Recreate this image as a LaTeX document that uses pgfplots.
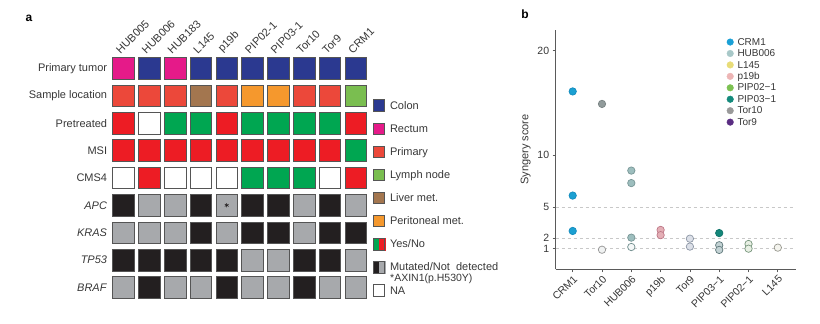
\documentclass[border=0pt]{standalone}
\usepackage{fontspec}
\setmainfont{Liberation Sans}
\usepackage{pgfplots}
\pgfplotsset{compat=1.18}
\definecolor{colonC}{RGB}{43,57,144}
\definecolor{rectumC}{RGB}{229,26,137}
\definecolor{primC}{RGB}{236,72,58}
\definecolor{lymphC}{RGB}{122,190,80}
\definecolor{liverC}{RGB}{163,118,79}
\definecolor{periC}{RGB}{245,152,45}
\definecolor{yesC}{RGB}{0,166,81}
\definecolor{noC}{RGB}{237,28,36}
\definecolor{mutC}{RGB}{35,31,32}
\definecolor{ndC}{RGB}{167,169,172}
\definecolor{sqdraw}{RGB}{85,85,85}
\definecolor{txt}{RGB}{55,55,55}
\definecolor{axC}{RGB}{90,90,90}
\definecolor{gridC}{RGB}{200,200,200}
% panel b legend colours
\definecolor{lCRM}{RGB}{26,160,214}
\definecolor{lHUB}{RGB}{168,200,200}
\definecolor{lL145}{RGB}{232,220,120}
\definecolor{lp19b}{RGB}{237,181,181}
\definecolor{lPIP02}{RGB}{124,193,82}
\definecolor{lPIP03}{RGB}{20,138,124}
\definecolor{lTor10}{RGB}{154,154,154}
\definecolor{lTor9}{RGB}{90,45,130}
% panel b point colours
\definecolor{fCRM}{RGB}{27,160,210}\definecolor{dCRM}{RGB}{20,140,190}
\definecolor{fT10a}{RGB}{145,155,155}\definecolor{dT10a}{RGB}{120,130,130}
\definecolor{fT10b}{RGB}{240,242,242}\definecolor{dT10b}{RGB}{150,150,150}
\definecolor{fHUBa}{RGB}{157,190,190}\definecolor{dHUBa}{RGB}{120,150,150}
\definecolor{fHUBb}{RGB}{245,248,248}\definecolor{dHUBb}{RGB}{110,140,140}
\definecolor{fP19}{RGB}{228,175,182}\definecolor{dP19}{RGB}{190,120,135}
\definecolor{fT9}{RGB}{220,224,232}\definecolor{dT9}{RGB}{140,150,165}
\definecolor{fP3a}{RGB}{20,135,122}\definecolor{dP3a}{RGB}{15,115,105}
\definecolor{fP3b}{RGB}{195,210,212}\definecolor{dP3b}{RGB}{95,120,122}
\definecolor{fP2}{RGB}{232,240,228}\definecolor{dP2}{RGB}{120,150,125}
\definecolor{fL}{RGB}{244,244,238}\definecolor{dL}{RGB}{150,150,140}
\pgfplotsset{
  sqleg/.style={legend image code/.code={\draw[draw=sqdraw, fill=#1, line width=0.6pt] (0pt,-5.75pt) rectangle (11.5pt,5.75pt);}},
  dotleg/.style={legend image code/.code={\draw[only marks, mark=*, mark size=3.3pt, mark options={draw=#1, fill=#1}] plot coordinates {(0pt,0pt)};}},
  sq/.style={only marks, mark=square*, mark size=10.8pt, mark options={draw=sqdraw, fill=#1, line width=0.7pt}, forget plot},
  pt/.style 2 args={only marks, mark=*, mark size=3.7pt, mark options={fill=#1, draw=#2, line width=0.7pt}, forget plot},
}
\begin{document}
\begin{tikzpicture}
% ---------------- panel a ----------------
\begin{axis}[
  at={(110.6pt,269.4pt)}, anchor=north west,
  scale only axis, width=258pt, height=246.6pt,
  xmin=-0.5, xmax=9.5, ymin=-0.5, ymax=8.5,
  axis line style={draw=none}, major tick length=0pt,
  clip=false,
  xtick={0,...,9},
  xticklabels={HUB005,HUB006,HUB183,L145,p19b,PIP02-1,PIP03-1,Tor10,Tor9,CRM1},
  xticklabel pos=upper,
  xticklabel style={rotate=45, anchor=south west, inner sep=1pt, xshift=-3pt, yshift=1pt},
  ytick={0,...,8},
  yticklabels={\textit{BRAF},\textit{TP53},\textit{KRAS},\textit{APC},CMS4,MSI,Pretreated,Sample location,Primary tumor},
  tick label style={font=\fontsize{11}{13}\selectfont, text=txt},
  legend cell align=left,
  legend style={at={(1.016,0.819)}, anchor=north west, draw=none, fill=none, inner sep=0pt,
    row sep=11pt, column sep=0pt, font=\fontsize{11}{13}\selectfont, text=txt,
    nodes={inner ysep=0pt, inner xsep=5pt}},
]
\addplot[sq=rectumC] coordinates {(0,8) (2,8)};
\addplot[sq=colonC] coordinates {(1,8) (3,8) (4,8) (5,8) (6,8) (7,8) (8,8) (9,8)};
\addplot[sq=primC] coordinates {(0,7) (1,7) (2,7) (4,7) (7,7) (8,7)};
\addplot[sq=liverC] coordinates {(3,7)};
\addplot[sq=periC] coordinates {(5,7) (6,7)};
\addplot[sq=lymphC] coordinates {(9,7)};
\addplot[sq=noC] coordinates {(0,6) (4,6) (9,6) (0,5) (1,5) (2,5) (3,5) (4,5) (5,5) (6,5) (7,5) (8,5) (1,4) (9,4)};
\addplot[sq=yesC] coordinates {(2,6) (3,6) (5,6) (6,6) (7,6) (8,6) (9,5) (5,4) (6,4) (7,4)};
\addplot[sq=white] coordinates {(1,6) (0,4) (2,4) (3,4) (4,4) (8,4)};
\addplot[sq=mutC] coordinates {(0,3) (3,3) (5,3) (6,3) (8,3) (3,2) (5,2) (6,2) (8,2) (9,2)
  (0,1) (1,1) (2,1) (3,1) (4,1) (7,1) (8,1) (1,0) (4,0) (7,0)};
\addplot[sq=ndC] coordinates {(1,3) (2,3) (4,3) (7,3) (9,3) (0,2) (1,2) (2,2) (4,2) (7,2)
  (5,1) (6,1) (9,1) (0,0) (2,0) (3,0) (5,0) (6,0) (8,0) (9,0)};
\addplot[only marks, mark=asterisk, mark size=2.2pt, mark options={draw=mutC, line width=0.6pt}, forget plot] coordinates {(4,3)};
\addlegendimage{sqleg=colonC}\addlegendentry{\strut Colon}
\addlegendimage{sqleg=rectumC}\addlegendentry{\strut Rectum}
\addlegendimage{sqleg=primC}\addlegendentry{\strut Primary}
\addlegendimage{sqleg=lymphC}\addlegendentry{\strut Lymph node}
\addlegendimage{sqleg=liverC}\addlegendentry{\strut Liver met.}
\addlegendimage{sqleg=periC}\addlegendentry{\strut Peritoneal met.}
\addlegendimage{legend image code/.code={\fill[yesC] (0pt,-5.75pt) rectangle (5.75pt,5.75pt);\fill[noC] (5.75pt,-5.75pt) rectangle (11.5pt,5.75pt);\draw[sqdraw, line width=0.6pt] (0pt,-5.75pt) rectangle (11.5pt,5.75pt);}}\addlegendentry{\strut Yes/No}
\addlegendimage{legend image code/.code={\fill[mutC] (0pt,-5.75pt) rectangle (5.75pt,5.75pt);\fill[ndC] (5.75pt,-5.75pt) rectangle (11.5pt,5.75pt);\draw[sqdraw, line width=0.6pt] (0pt,-5.75pt) rectangle (11.5pt,5.75pt);}}\addlegendentry{\strut Mutated/Not\ \ detected}
\addlegendimage{legend image code/.code={\draw[draw=sqdraw, fill=white, line width=0.6pt] (0pt,-5.75pt) rectangle (11.5pt,5.75pt);}}\addlegendentry{\strut NA}
\end{axis}
\node[anchor=west, inner sep=0pt, font=\fontsize{10.5}{12}\selectfont, text=txt] at (390pt,45pt) {*AXIN1(p.H530Y)};
\node[anchor=center, inner sep=0pt, font=\bfseries\fontsize{12}{14}\selectfont] at (29pt,306pt) {a};
\node[anchor=center, inner sep=0pt, font=\bfseries\fontsize{12}{14}\selectfont] at (525pt,310pt) {b};
% ---------------- panel b ----------------
\begin{axis}[
  at={(555.7pt,54.7pt)}, anchor=south west,
  scale only axis, width=240pt, height=239.3pt,
  xmin=-0.58, xmax=7.61, ymin=-0.98, ymax=22,
  axis lines*=left,
  axis line style={draw=axC, line width=0.8pt},
  tick style={draw=axC, line width=0.7pt},
  tick align=outside, major tick length=3pt,
  xtick={0,...,7},
  xticklabels={CRM1,Tor10,HUB006,p19b,Tor9,PIP03−1,PIP02−1,L145},
  xticklabel style={rotate=45, anchor=north east, inner sep=1.5pt},
  ytick={1,2,5,10,20},
  tick label style={font=\fontsize{10.5}{12}\selectfont, text=txt},
  /pgf/number format/assume math mode=true,
  ylabel={Syngery score},
  ylabel style={font=\fontsize{11}{13}\selectfont, text=txt},
  legend cell align=left,
  legend style={at={(0.7125,0.970)}, anchor=north west, draw=none, fill=none, inner sep=0pt,
    row sep=2.1pt, column sep=0pt, font=\fontsize{10}{11.2}\selectfont, text=txt,
    nodes={inner ysep=0pt, inner xsep=4pt}},
]
\addplot[gridC, dash pattern=on 3pt off 3pt, line width=0.8pt, forget plot] coordinates {(-0.58,1) (7.61,1)};
\addplot[gridC, dash pattern=on 3pt off 3pt, line width=0.8pt, forget plot] coordinates {(-0.58,2) (7.61,2)};
\addplot[gridC, dash pattern=on 3pt off 3pt, line width=0.8pt, forget plot] coordinates {(-0.58,5) (7.61,5)};
% CRM1
\addplot[pt={fCRM}{dCRM}] coordinates {(0,16.1) (0,6.1) (0,2.7)};
% Tor10
\addplot[pt={fT10a}{dT10a}] coordinates {(1,14.9)};
\addplot[pt={fT10b}{dT10b}] coordinates {(1,0.9)};
% HUB006
\addplot[pt={fHUBa}{dHUBa}] coordinates {(2,8.5) (2,7.3) (2,2.06)};
\addplot[pt={fHUBb}{dHUBb}] coordinates {(2,1.16)};
% p19b
\addplot[pt={fP19}{dP19}] coordinates {(3,2.8) (3,2.3)};
% Tor9
\addplot[pt={fT9}{dT9}] coordinates {(4,1.96) (4,1.2)};
% PIP03-1
\addplot[pt={fP3a}{dP3a}] coordinates {(5,2.5)};
\addplot[pt={fP3b}{dP3b}] coordinates {(5,1.33) (5,0.88)};
% PIP02-1
\addplot[pt={fP2}{dP2}] coordinates {(6,1.45) (6,1.0)};
% L145
\addplot[pt={fL}{dL}] coordinates {(7,1.1)};
\addlegendimage{dotleg=lCRM}\addlegendentry{\strut CRM1}
\addlegendimage{dotleg=lHUB}\addlegendentry{\strut HUB006}
\addlegendimage{dotleg=lL145}\addlegendentry{\strut L145}
\addlegendimage{dotleg=lp19b}\addlegendentry{\strut p19b}
\addlegendimage{dotleg=lPIP02}\addlegendentry{\strut PIP02−1}
\addlegendimage{dotleg=lPIP03}\addlegendentry{\strut PIP03−1}
\addlegendimage{dotleg=lTor10}\addlegendentry{\strut Tor10}
\addlegendimage{dotleg=lTor9}\addlegendentry{\strut Tor9}
\end{axis}
\pgfresetboundingbox
\useasboundingbox (0pt,0pt) rectangle (820pt,324pt);
\end{tikzpicture}
\end{document}
